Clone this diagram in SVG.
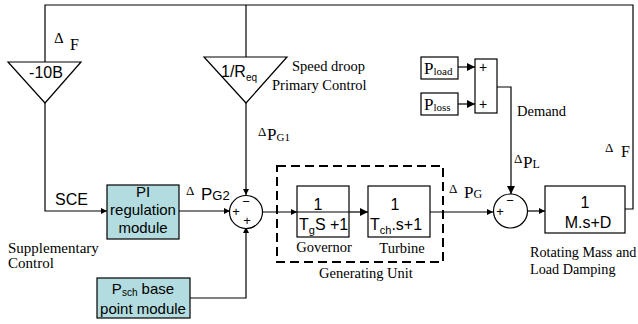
<svg xmlns="http://www.w3.org/2000/svg" width="638" height="324" viewBox="0 0 638 324">
<style>
.ln{fill:none;stroke:#000;stroke-width:1.2}
.bx{fill:#fff;stroke:#000;stroke-width:1.2}
.tl{fill:#b2dcdf;stroke:#000;stroke-width:1.2}
.s{font-family:"Liberation Sans",Arial,sans-serif;fill:#000}
.t{font-family:"Liberation Serif","Times New Roman",serif;fill:#000}
</style>
<defs>
<marker id="a" viewBox="0 0 10 10" refX="10" refY="5" markerWidth="6" markerHeight="6" orient="auto" markerUnits="userSpaceOnUse"><path d="M0,0L10,5L0,10z" fill="#000"/></marker>
<marker id="b" viewBox="0 0 10 10" refX="10" refY="5" markerWidth="12" markerHeight="8" orient="auto" markerUnits="userSpaceOnUse"><path d="M0,0L10,5L0,10z" fill="#000"/></marker>
</defs>
<g id="connectors">
<path class="ln" d="M45,62V5H633V209H545"/>
<path class="ln" d="M246,5V57"/>
<path class="ln" d="M45,103V211H107" marker-end="url(#a)"/>
<path class="ln" d="M246,103V195" marker-end="url(#a)"/>
<path class="ln" d="M179,211H230" marker-end="url(#a)"/>
<path class="ln" d="M190,298H246V227" marker-end="url(#a)"/>
<path class="ln" d="M262,212H297" marker-end="url(#a)"/>
<path class="ln" d="M349,212H368" marker-end="url(#b)"/>
<path class="ln" d="M430,212H493" marker-end="url(#a)"/>
<path class="ln" d="M497,87H511V194" marker-end="url(#b)"/>
<path class="ln" d="M527,211H545" marker-end="url(#a)"/>
<path class="ln" d="M458,67H475" marker-end="url(#b)"/>
<path class="ln" d="M458,104H475" marker-end="url(#b)"/>
</g>
<g id="gainB">
<path class="bx" d="M8,62H81L45,103z"/>
<text class="s" x="46" y="78" font-size="16" text-anchor="middle">-10B</text>
</g>
<g id="gainR">
<path class="bx" d="M204,57H287L246,103z"/>
<text class="s" x="221" y="77" font-size="16">1/R<tspan font-size="10" dy="4">eq</tspan></text>
</g>
<g id="pi">
<rect class="tl" x="107" y="185" width="72" height="54"/>
<text class="s" font-size="15" text-anchor="middle"><tspan x="143" y="197">PI</tspan><tspan x="143" y="215">regulation</tspan><tspan x="143" y="233">module</tspan></text>
</g>
<g id="psch">
<rect class="tl" x="97" y="278" width="93" height="40"/>
<text class="s" x="143" y="294" font-size="15" text-anchor="middle">P<tspan font-size="10" dy="2">sch</tspan><tspan dy="-2"> base</tspan></text>
<text class="s" x="143" y="314" font-size="15" text-anchor="middle">point module</text>
</g>
<g id="sum1">
<circle class="bx" cx="246" cy="212" r="16.5"/>
<text class="s" x="246" y="206" font-size="13" text-anchor="middle">−</text>
<text class="s" x="236" y="216" font-size="13" text-anchor="middle">+</text>
<text class="s" x="247" y="225" font-size="13" text-anchor="middle">+</text>
</g>
<g id="governor">
<rect class="bx" x="297" y="186" width="52" height="51"/>
<path class="ln" d="M297,212H349"/>
<text class="s" x="318" y="210" font-size="16" text-anchor="middle">1</text>
<text class="s" x="299" y="230" font-size="16">T<tspan font-size="11" dy="4">g</tspan><tspan dy="-4">S +1</tspan></text>
<text class="t" x="324" y="252" font-size="14.5" text-anchor="middle">Governor</text>
</g>
<g id="turbine">
<rect class="bx" x="368" y="186" width="62" height="51"/>
<text class="s" x="395" y="210" font-size="16" text-anchor="middle">1</text>
<text class="s" x="370" y="230" font-size="16">T<tspan font-size="11" dy="4">ch</tspan><tspan dy="-4">.s+1</tspan></text>
<text class="t" x="402" y="253" font-size="14.5" text-anchor="middle">Turbine</text>
</g>
<g id="genunit">
<rect x="277" y="166" width="166" height="96" fill="none" stroke="#000" stroke-width="2" stroke-dasharray="9,5"/>
<text class="t" x="366" y="278" font-size="14.5" text-anchor="middle">Generating Unit</text>
</g>
<g id="sum2">
<circle class="bx" cx="510.5" cy="211" r="17"/>
<text class="s" x="510" y="205" font-size="13" text-anchor="middle">−</text>
<text class="s" x="500" y="216" font-size="13" text-anchor="middle">+</text>
</g>
<g id="mass">
<rect class="bx" x="545" y="186" width="80" height="47"/>
<text class="s" x="585" y="208" font-size="16" text-anchor="middle">1</text>
<text class="s" x="588" y="228" font-size="16" text-anchor="middle">M.s+D</text>
<text class="t" font-size="14.2"><tspan x="530" y="257">Rotating Mass and</tspan><tspan x="530" y="274">Load Damping</tspan></text>
</g>
<g id="pload">
<rect class="bx" x="421" y="57" width="37" height="22"/>
<text class="t" x="424" y="74" font-size="17">P<tspan font-size="11" dy="1">load</tspan></text>
</g>
<g id="ploss">
<rect class="bx" x="421" y="93" width="37" height="22"/>
<text class="t" x="424" y="110" font-size="17">P<tspan font-size="11" dy="1">loss</tspan></text>
</g>
<g id="demand">
<rect class="bx" x="475" y="59" width="22" height="54"/>
<text class="s" x="483" y="72" font-size="14" text-anchor="middle">+</text>
<text class="s" x="483" y="109" font-size="14" text-anchor="middle">+</text>
<text class="t" x="517" y="116" font-size="14.5">Demand</text>
</g>
<g id="labels">
<text class="t" x="54" y="43" font-size="15">Δ</text>
<text class="t" x="70" y="50" font-size="16">F</text>
<text class="t" x="292" y="71" font-size="14.5">Speed droop</text>
<text class="t" x="272" y="90" font-size="14.5">Primary Control</text>
<text class="t" x="258" y="136" font-size="13">Δ</text>
<text class="t" x="267" y="140" font-size="17">P<tspan font-size="11" dy="1">G1</tspan></text>
<text class="s" x="55" y="205" font-size="16">SCE</text>
<text class="t" x="8" y="253" font-size="15">Supplementary</text>
<text class="t" x="8" y="268" font-size="15">Control</text>
<text class="t" x="186" y="195" font-size="13">Δ</text>
<text class="s" x="201" y="200" font-size="17">P<tspan font-size="13">G2</tspan></text>
<text class="t" x="449" y="193" font-size="13">Δ</text>
<text class="t" x="464" y="198" font-size="17">P<tspan font-size="12">G</tspan></text>
<text class="t" x="514" y="163" font-size="13">Δ</text>
<text class="t" x="523" y="168" font-size="17">P<tspan font-size="12">L</tspan></text>
<text class="t" x="605" y="152" font-size="13">Δ</text>
<text class="t" x="621" y="157" font-size="16">F</text>
</g>
</svg>
